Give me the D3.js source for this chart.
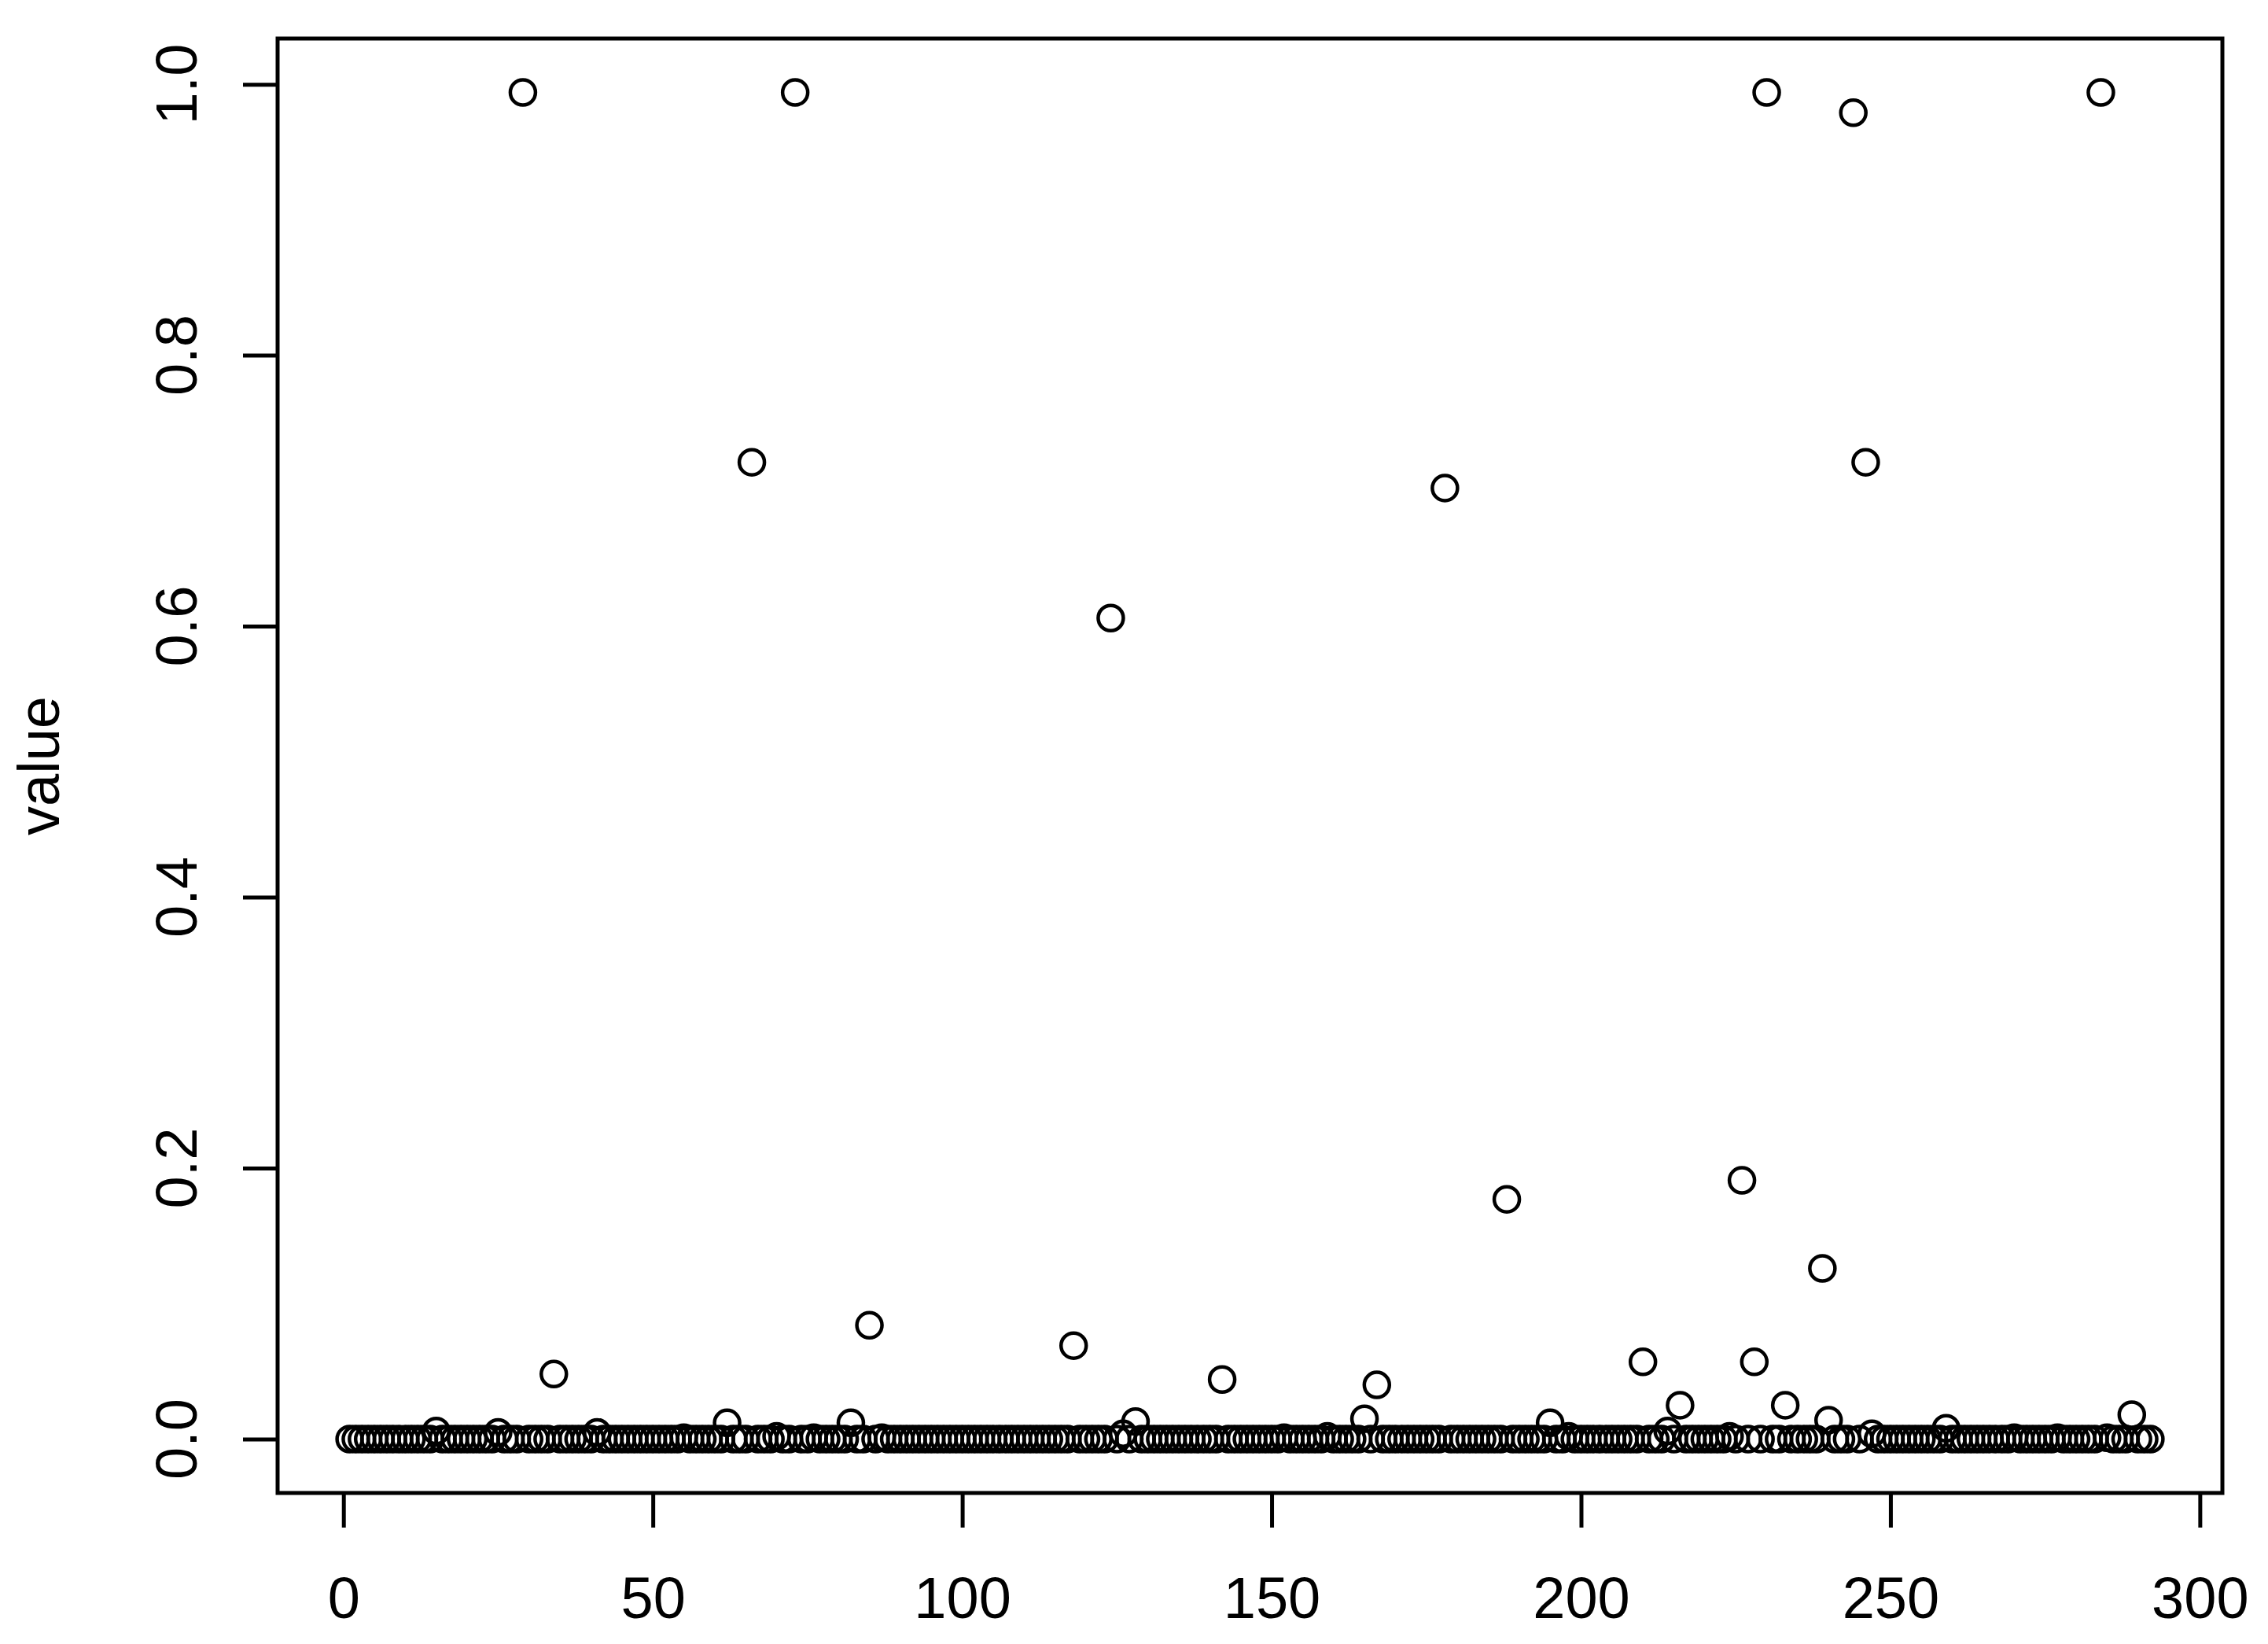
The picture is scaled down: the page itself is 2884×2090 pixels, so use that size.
<!DOCTYPE html>
<html>
<head>
<meta charset="utf-8">
<script src="https://cdn.jsdelivr.net/npm/d3@7"></script>
<style>
    html, body { margin: 0; padding: 0; background: #fff; }
    #main { width: 2884px; height: 2090px; }
    text { font-family: "Liberation Sans", Arial, Helvetica, sans-serif; fill: #000; }
</style>
</head>
<body>
<div id="main"></div>
<script>
// values by index 1..292 (rows of 20)
const values = [
    0, 0, 0, 0, 0, 0, 0, 0, 0, 0, 0, 0, 0, 0, 0.006, 0, 0, 0, 0, 0,
    0, 0, 0, 0, 0.005, 0, 0, 0, 0.994, 0, 0, 0, 0, 0.048, 0, 0, 0, 0, 0, 0,
    0.005, 0, 0, 0, 0, 0, 0, 0, 0, 0, 0, 0, 0, 0, 0.001, 0, 0, 0, 0, 0,
    0, 0.012, 0, 0, 0, 0.721, 0, 0, 0, 0.002, 0, 0, 0.994, 0, 0, 0.001, 0, 0, 0, 0,
    0, 0.012, 0, 0, 0.084, 0, 0.001, 0, 0, 0, 0, 0, 0, 0, 0, 0, 0, 0, 0, 0,
    0, 0, 0, 0, 0, 0, 0, 0, 0, 0, 0, 0, 0, 0, 0, 0, 0, 0.069, 0, 0,
    0, 0, 0, 0.606, 0, 0.004, 0, 0.013, 0, 0, 0, 0, 0, 0, 0, 0, 0, 0, 0, 0,
    0, 0.044, 0, 0, 0, 0, 0, 0, 0, 0, 0, 0.001, 0, 0, 0, 0, 0, 0, 0.002, 0,
    0, 0, 0, 0, 0.015, 0, 0.040, 0, 0, 0, 0, 0, 0, 0, 0, 0, 0, 0.702, 0, 0,
    0, 0, 0, 0, 0, 0, 0, 0.177, 0, 0, 0, 0, 0, 0, 0.012, 0, 0, 0.002, 0, 0,
    0, 0, 0, 0, 0, 0, 0, 0, 0, 0.057, 0, 0, 0, 0.006, 0, 0.025, 0, 0, 0, 0,
    0, 0, 0, 0.002, 0, 0.191, 0, 0.057, 0, 0.994, 0, 0, 0.025, 0, 0, 0, 0, 0, 0.126, 0.014,
    0, 0, 0, 0.979, 0, 0.721, 0.004, 0, 0, 0, 0, 0, 0, 0, 0, 0, 0, 0, 0.008, 0,
    0, 0, 0, 0, 0, 0, 0, 0, 0, 0.001, 0, 0, 0, 0, 0, 0, 0.001, 0, 0, 0,
    0, 0, 0, 0.994, 0.001, 0, 0, 0, 0.018, 0, 0, 0
];
const xTicks = [0, 50, 100, 150, 200, 250, 300];
const yTicks = [0, 0.2, 0.4, 0.6, 0.8, 1.0];
const yTickLabels = ['0.0', '0.2', '0.4', '0.6', '0.8', '1.0'];
const yTitle = 'value';

const width = 2884,
    height = 2090;
const plot = { left: 353, right: 2826, top: 49, bottom: 1898 };
const tickLen = 44;
const fontSize = 74;

const points = values.map((v, i) => ({ index: i + 1, value: v }));

function drawChart() {
    const svg = d3.select('#main')
        .append('svg')
        .attr('width', width)
        .attr('height', height);

    svg.append('rect')
        .attr('width', width)
        .attr('height', height)
        .attr('fill', '#fff');

    // R style 4% padding on both axes
    const n = points.length;
    const padX = (n - 1) * 0.04;
    const maxV = d3.max(values);
    const padY = maxV * 0.04;

    const x = d3.scaleLinear()
        .domain([1 - padX, n + padX])
        .range([plot.left, plot.right]);
    const y = d3.scaleLinear()
        .domain([-padY, maxV + padY])
        .range([plot.bottom, plot.top]);

    // points
    svg.append('g')
        .selectAll('circle')
        .data(points)
        .join('circle')
        .attr('cx', d => x(d.index))
        .attr('cy', d => y(d.value))
        .attr('r', 16)
        .attr('fill', 'none')
        .attr('stroke', '#000')
        .attr('stroke-width', 4.5);

    // x axis
    const xAxis = svg.append('g')
        .attr('transform', `translate(0, ${plot.bottom})`)
        .call(d3.axisBottom(x).tickValues(xTicks).tickSize(tickLen).tickSizeOuter(0).tickPadding(62));
    xAxis.select('.domain').remove();
    xAxis.selectAll('.tick line').attr('stroke', '#000').attr('stroke-width', 5);
    xAxis.selectAll('.tick text')
        .attr('font-size', fontSize)
        .attr('font-family', '"Liberation Sans", Arial, sans-serif')
        .attr('fill', '#000');

    // y axis, labels rotated like R's las=0
    const yAxis = svg.append('g')
        .attr('transform', `translate(${plot.left}, 0)`)
        .call(d3.axisLeft(y).tickValues(yTicks).tickSize(tickLen).tickSizeOuter(0).tickFormat(''));
    yAxis.select('.domain').remove();
    yAxis.selectAll('.tick line').attr('stroke', '#000').attr('stroke-width', 5);

    svg.append('g')
        .selectAll('text')
        .data(yTicks)
        .join('text')
        .attr('transform', d => `translate(250, ${y(d)}) rotate(-90)`)
        .attr('text-anchor', 'middle')
        .attr('font-size', fontSize)
        .text((d, i) => yTickLabels[i]);

    svg.append('text')
        .attr('transform', `translate(75, ${(plot.top + plot.bottom) / 2}) rotate(-90)`)
        .attr('text-anchor', 'middle')
        .attr('font-size', fontSize)
        .text(yTitle);

    // box
    svg.append('rect')
        .attr('x', plot.left)
        .attr('y', plot.top)
        .attr('width', plot.right - plot.left)
        .attr('height', plot.bottom - plot.top)
        .attr('fill', 'none')
        .attr('stroke', '#000')
        .attr('stroke-width', 5);
}

drawChart();
</script>
</body>
</html>
